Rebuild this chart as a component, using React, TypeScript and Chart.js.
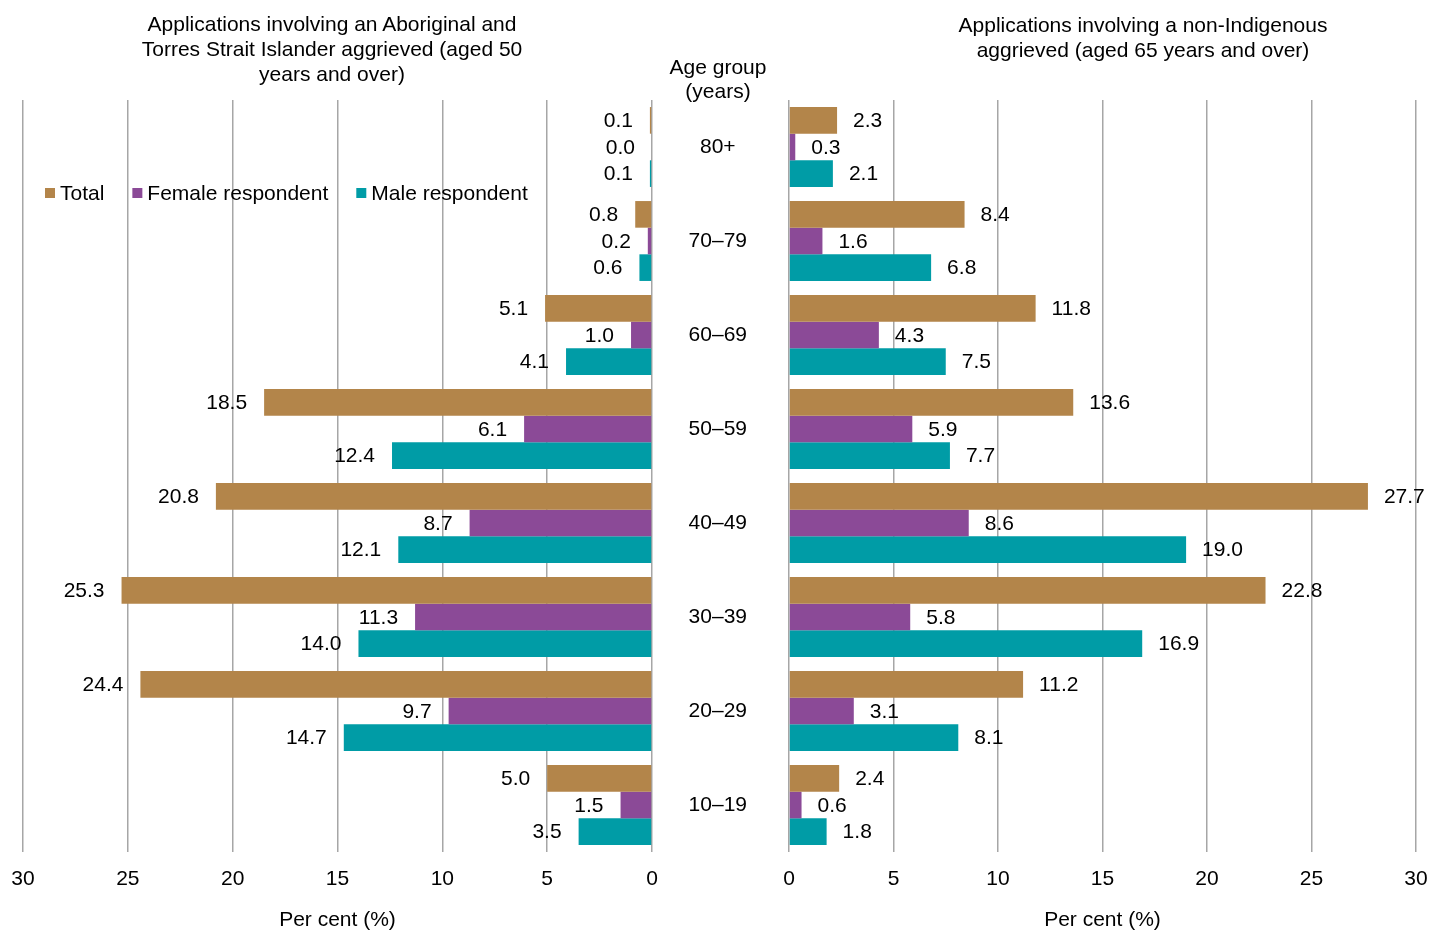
import React, { useEffect, useRef } from 'react';
import { Chart, registerables } from 'chart.js';

Chart.register(...registerables);

const FONT = '"Liberation Sans", Arial, sans-serif';
const FONT_SIZE = 21;

const ageGroups = ['80+', '70–79', '60–69', '50–59', '40–49', '30–39', '20–29', '10–19'];
const seriesNames = ['Total', 'Female respondent', 'Male respondent'];
const seriesColors = ['#B3854A', '#8B4A97', '#009CA6'];

const indigenousTotal = [0.1, 0.8, 5.1, 18.5, 20.8, 25.3, 24.4, 5.0];
const indigenousFemale = [0.0, 0.2, 1.0, 6.1, 8.7, 11.3, 9.7, 1.5];
const indigenousMale = [0.1, 0.6, 4.1, 12.4, 12.1, 14.0, 14.7, 3.5];

const nonIndigenousTotal = [2.3, 8.4, 11.8, 13.6, 27.7, 22.8, 11.2, 2.4];
const nonIndigenousFemale = [0.3, 1.6, 4.3, 5.9, 8.6, 5.8, 3.1, 0.6];
const nonIndigenousMale = [2.1, 6.8, 7.5, 7.7, 19.0, 16.9, 8.1, 1.8];

const percentTicks = [0, 5, 10, 15, 20, 25, 30];

const leftTitle = [
  'Applications involving an Aboriginal and',
  'Torres Strait Islander aggrieved (aged 50',
  'years and over)',
];
const rightTitle = [
  'Applications involving a non-Indigenous',
  'aggrieved (aged 65 years and over)',
];
const centerTitle = ['Age group', '(years)'];
const axisTitle = 'Per cent (%)';

function makeDatasets(values: number[][]) {
  return values.map((data, i) => ({
    label: seriesNames[i],
    data,
    backgroundColor: seriesColors[i],
    borderWidth: 0,
    categoryPercentage: 0.85,
    barPercentage: 1.0,
  }));
}

function valueLabelPlugin(dir: number, offset: number) {
  return {
    id: 'valueLabels',
    afterDatasetsDraw(chart: any) {
      const ctx = chart.ctx;
      ctx.save();
      ctx.font = `${FONT_SIZE}px ${FONT}`;
      ctx.fillStyle = '#000';
      ctx.textBaseline = 'middle';
      ctx.textAlign = dir > 0 ? 'left' : 'right';
      chart.data.datasets.forEach((ds: any, i: number) => {
        chart.getDatasetMeta(i).data.forEach((el: any, j: number) => {
          const v = ds.data[j] as number;
          ctx.fillText(v.toFixed(1), el.x + dir * offset, el.y + 1);
        });
      });
      ctx.restore();
    },
  };
}

const inlineLegendPlugin = {
  id: 'inlineLegend',
  afterDraw(chart: any) {
    const ctx = chart.ctx;
    const y = 193;
    let x = 45;
    ctx.save();
    ctx.font = `${FONT_SIZE}px ${FONT}`;
    ctx.textBaseline = 'middle';
    ctx.textAlign = 'left';
    chart.data.datasets.forEach((ds: any) => {
      ctx.fillStyle = ds.backgroundColor;
      ctx.fillRect(x, y - 5, 10, 10);
      x += 15;
      ctx.fillStyle = '#000';
      ctx.fillText(ds.label, x, y + 1);
      x += ctx.measureText(ds.label).width + 28;
    });
    ctx.restore();
  },
};

function xScale(reverse: boolean) {
  return {
    type: 'linear',
    min: 0,
    max: 30,
    reverse,
    grid: { color: '#A6A6A6', lineWidth: 1.5, drawTicks: false },
    border: { display: false },
    afterBuildTicks: (s: any) => {
      s.ticks = percentTicks.map((v) => ({ value: v }));
    },
    ticks: {
      padding: 15,
      color: '#000',
      font: { size: FONT_SIZE, family: FONT },
      maxRotation: 0,
    },
    title: {
      display: true,
      text: axisTitle,
      color: '#000',
      font: { size: FONT_SIZE, family: FONT },
      padding: { top: 0, bottom: 0 },
    },
    afterFit: (s: any) => {
      s.height = 81;
      s.paddingLeft = 0;
      s.paddingRight = 0;
    },
  };
}

export default function App() {
  const leftRef = useRef<HTMLCanvasElement>(null);
  const rightRef = useRef<HTMLCanvasElement>(null);

  useEffect(() => {
    const left = new Chart(leftRef.current as HTMLCanvasElement, {
      type: 'bar',
      data: {
        labels: ageGroups,
        datasets: makeDatasets([indigenousTotal, indigenousFemale, indigenousMale]) as any,
      },
      options: {
        indexAxis: 'y',
        animation: false,
        responsive: false,
        devicePixelRatio: 1,
        layout: { padding: { top: 100, left: 23, right: 8, bottom: 0 } },
        plugins: { legend: { display: false }, tooltip: { enabled: false }, title: { display: false } },
        scales: {
          x: xScale(true) as any,
          y: { type: 'category', display: false },
        },
      } as any,
      plugins: [valueLabelPlugin(-1, 17), inlineLegendPlugin],
    });

    const right = new Chart(rightRef.current as HTMLCanvasElement, {
      type: 'bar',
      data: {
        labels: ageGroups,
        datasets: makeDatasets([nonIndigenousTotal, nonIndigenousFemale, nonIndigenousMale]) as any,
      },
      options: {
        indexAxis: 'y',
        animation: false,
        responsive: false,
        devicePixelRatio: 1,
        layout: { padding: { top: 100, left: 0, right: 16, bottom: 0 } },
        plugins: { legend: { display: false }, tooltip: { enabled: false }, title: { display: false } },
        scales: {
          x: xScale(false) as any,
          y: {
            type: 'category',
            grid: { display: false },
            border: { display: false },
            ticks: {
              crossAlign: 'center',
              padding: 34,
              color: '#000',
              font: { size: FONT_SIZE, family: FONT },
            },
            afterFit: (s: any) => {
              s.width = 133;
              s.paddingTop = 0;
              s.paddingBottom = 0;
            },
          },
        },
      } as any,
      plugins: [valueLabelPlugin(1, 16)],
    });

    return () => {
      left.destroy();
      right.destroy();
    };
  }, []);

  const textStyle: React.CSSProperties = {
    position: 'absolute',
    fontFamily: FONT,
    fontSize: FONT_SIZE,
    color: '#000',
    textAlign: 'center',
    lineHeight: '25px',
    whiteSpace: 'nowrap',
  };

  return (
    <div
      style={{
        position: 'absolute',
        left: 0,
        top: 0,
        width: 1432,
        height: 933,
        background: '#fff',
        overflow: 'hidden',
      }}
    >
      <canvas
        ref={leftRef}
        width={660}
        height={933}
        style={{ position: 'absolute', left: 0, top: 0, width: 660, height: 933 }}
      />
      <canvas
        ref={rightRef}
        width={776}
        height={933}
        style={{ position: 'absolute', left: 656, top: 0, width: 776, height: 933 }}
      />
      <div style={{ ...textStyle, left: 32, width: 600, top: 11 }}>
        {leftTitle.map((t) => (
          <div key={t}>{t}</div>
        ))}
      </div>
      <div style={{ ...textStyle, left: 893, width: 500, top: 12 }}>
        {rightTitle.map((t) => (
          <div key={t}>{t}</div>
        ))}
      </div>
      <div style={{ ...textStyle, left: 618, width: 200, top: 55, lineHeight: '24px' }}>
        {centerTitle.map((t) => (
          <div key={t}>{t}</div>
        ))}
      </div>
    </div>
  );
}
